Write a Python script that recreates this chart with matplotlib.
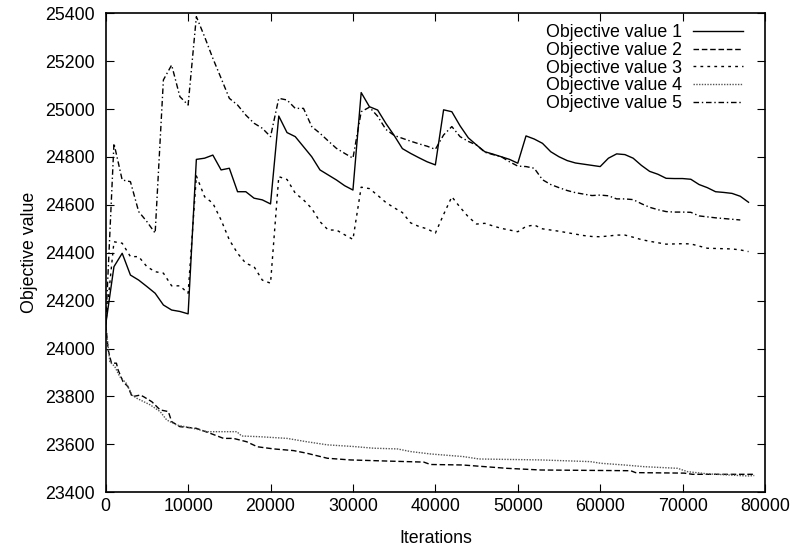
import matplotlib
matplotlib.use("Agg")
import matplotlib.pyplot as plt

plt.rcParams['font.family'] = ['Liberation Sans', 'DejaVu Sans']

# --- data ---
iters_a = list(range(0, 79000, 1000))  # 0 .. 78000

obj1 = [24100, 24342, 24398, 24307, 24286, 24259, 24231, 24182, 24161, 24155,
        24145, 24790, 24795, 24808, 24746, 24753, 24655, 24655, 24628, 24621,
        24604, 24971, 24902, 24885, 24843, 24801, 24746, 24725, 24704, 24680,
        24662, 25069, 25010, 24996, 24940, 24890, 24835, 24815, 24797, 24780,
        24767, 24997, 24989, 24930, 24880, 24850, 24822, 24812, 24801, 24790,
        24774, 24888, 24875, 24857, 24822, 24801, 24785, 24775, 24770, 24765,
        24760, 24795, 24813, 24810, 24795, 24765, 24740, 24728, 24711, 24710,
        24710, 24707, 24685, 24672, 24655, 24652, 24648, 24636, 24611]

obj3 = [24100, 24446, 24440, 24384, 24384, 24342, 24321, 24315, 24262, 24262,
        24231, 24721, 24634, 24607, 24537, 24454, 24398, 24356, 24342, 24286,
        24273, 24718, 24706, 24649, 24621, 24585, 24530, 24495, 24495, 24475,
        24456, 24674, 24668, 24640, 24610, 24588, 24568, 24525, 24510, 24500,
        24482, 24560, 24634, 24590, 24550, 24520, 24523, 24512, 24502, 24495,
        24488, 24510, 24516, 24500, 24495, 24490, 24484, 24478, 24472, 24468,
        24467, 24470, 24474, 24474, 24465, 24455, 24448, 24442, 24436, 24437,
        24438, 24437, 24428, 24419, 24418, 24417, 24416, 24412, 24405]

iters_5 = list(range(0, 78000, 1000))  # 0 .. 77000
obj5 = [24100, 24857, 24704, 24697, 24572, 24530, 24482, 25122, 25184, 25052,
        25017, 25386, 25302, 25212, 25129, 25045, 25017, 24975, 24941, 24920,
        24885, 25045, 25038, 25003, 25003, 24927, 24899, 24867, 24836, 24815,
        24795, 24989, 25008, 24970, 24915, 24890, 24878, 24866, 24855, 24845,
        24832, 24892, 24927, 24885, 24865, 24850, 24820, 24810, 24801, 24780,
        24762, 24760, 24753, 24705, 24685, 24672, 24660, 24651, 24645, 24639,
        24641, 24638, 24625, 24625, 24622, 24605, 24590, 24580, 24572, 24570,
        24570, 24569, 24554, 24550, 24546, 24543, 24540, 24537]

iters_2 = [0, 300, 700, 1300, 1500, 2100, 2700, 3200, 4200, 4600, 5600, 6600,
           7600, 8000, 9000, 11000, 12700, 14300, 15500, 17100, 18400, 20400,
           22800, 24400, 26900, 29700, 34500, 38600, 39400, 43300, 48700,
           52800, 63700, 64300, 70200, 71200, 78700]
obj2 = [24100, 23994, 23939, 23939, 23911, 23862, 23841, 23799, 23806, 23799,
        23778, 23744, 23737, 23695, 23674, 23667, 23646, 23625, 23625, 23611,
        23590, 23581, 23574, 23563, 23542, 23535, 23530, 23526, 23516, 23514,
        23500, 23493, 23490, 23482, 23480, 23475, 23475]

iters_4 = [0, 500, 1100, 1700, 2500, 3200, 3800, 5400, 6600, 7400, 8600,
           10600, 12300, 14300, 15900, 16500, 18700, 22000, 24400, 26900,
           30100, 32500, 35400, 37000, 39400, 43400, 45300, 52800, 58800,
           60100, 62900, 65300, 69400, 70600, 73000, 77900, 78700]
obj4 = [24100, 23945, 23925, 23883, 23855, 23806, 23792, 23765, 23737, 23702,
        23681, 23667, 23653, 23653, 23653, 23635, 23632, 23625, 23611, 23598,
        23591, 23584, 23581, 23570, 23560, 23549, 23539, 23535, 23528, 23521,
        23514, 23507, 23500, 23486, 23477, 23468, 23470]

labels = ['Objective value 1', 'Objective value 2', 'Objective value 3',
          'Objective value 4', 'Objective value 5']

FS = 12.8

fig = plt.figure(figsize=(7.93, 5.52), dpi=100)
ax = fig.add_axes([0.1333, 0.1082, 0.8314, 0.8677])

lw = 1.0
ax.plot(iters_a, obj1, color='black', lw=lw, ls='-', label=labels[0])
ax.plot(iters_2, obj2, color='black', lw=lw, ls=(0, (4, 2)), label=labels[1])
ax.plot(iters_a, obj3, color='black', lw=lw, ls=(0, (2, 3)), label=labels[2])
ax.plot(iters_4, obj4, color='#555555', lw=lw, ls=(0, (1, 1)), label=labels[3])
ax.plot(iters_5, obj5, color='black', lw=lw, ls=(0, (4, 2, 1, 2)), label=labels[4])

ax.set_xlim(0, 80000)
ax.set_ylim(23400, 25400)
ax.set_xticks(range(0, 80001, 10000))
ax.set_yticks(range(23400, 25401, 200))
ax.tick_params(direction='in', length=6, top=True, right=True, labelsize=FS)
ax.tick_params(axis='x', pad=4)
ax.tick_params(axis='y', pad=8)
for sp in ax.spines.values():
    sp.set_linewidth(1.2)

ax.set_xlabel('Iterations', fontsize=FS, labelpad=11)
ax.set_ylabel('Objective value', fontsize=FS, labelpad=5)

leg = ax.legend(loc='upper right', bbox_to_anchor=(0.977, 0.992),
                markerfirst=False, frameon=False, borderaxespad=0,
                fontsize=FS, handlelength=2.8, labelspacing=0.04,
                handletextpad=0.62)
for t in leg.get_texts():
    t.set_ha('right')

fig.savefig('out.png', dpi=100)
